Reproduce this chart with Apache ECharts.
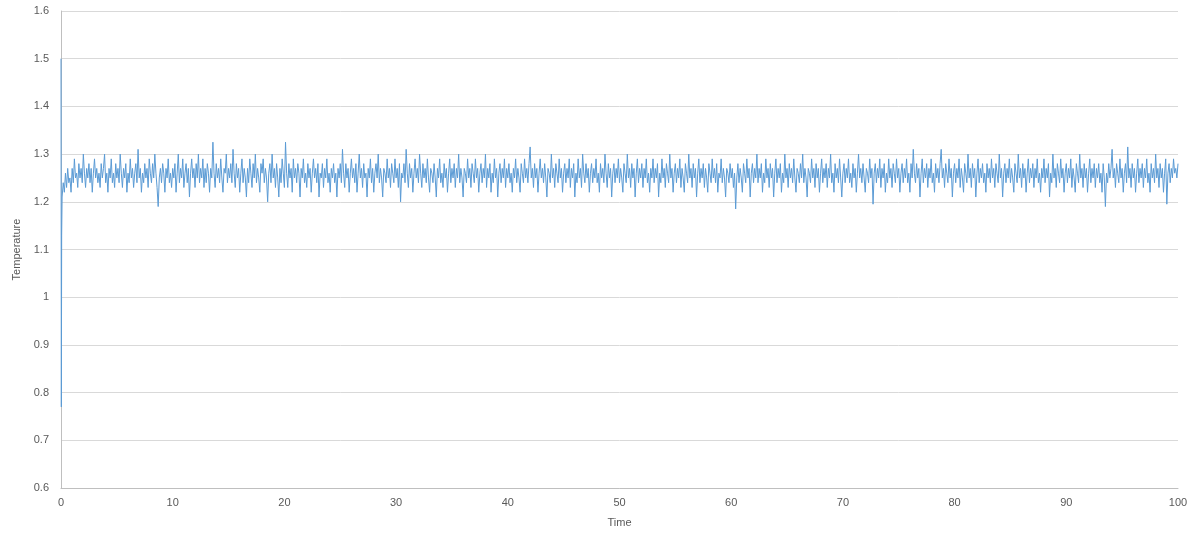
<!DOCTYPE html>
<html>
<head>
<meta charset="utf-8">
<script src="https://cdn.jsdelivr.net/npm/echarts@6/dist/echarts.min.js"></script>
<style>html,body{margin:0;padding:0;background:#fff}#c{width:1199px;height:541px}</style>
</head>
<body>
<div id="c"></div>
<script>
// Start-up transient (time, temperature)
const startTimes = [0, 0.03, 0.06];
const startTemps = [1.50, 0.77, 1.13];
// Sampling step of the remaining record (time units), first sample time
const sampleStep = 0.1;
const sampleStart = 0.1;
// Temperature readings, t = 0.1 ... 100 (25 per row = 2.5 time units)
const temps = [
1.21,1.24,1.22,1.26,1.23,1.27,1.24,1.25,1.22,1.27,1.24,1.29,1.25,1.26,1.23,1.28,1.25,1.27,1.24,1.30,1.26,1.23,1.27,1.25,1.28,
1.24,1.27,1.22,1.26,1.29,1.25,1.27,1.24,1.26,1.23,1.28,1.25,1.27,1.30,1.24,1.26,1.22,1.27,1.25,1.29,1.24,1.26,1.23,1.28,1.25,
1.27,1.24,1.30,1.26,1.23,1.27,1.25,1.28,1.22,1.26,1.24,1.29,1.25,1.27,1.23,1.26,1.28,1.24,1.31,1.25,1.27,1.22,1.26,1.24,1.28,
1.25,1.27,1.23,1.29,1.26,1.24,1.28,1.25,1.30,1.26,1.23,1.19,1.25,1.27,1.24,1.28,1.26,1.22,1.27,1.25,1.29,1.24,1.26,1.23,1.27,
1.25,1.28,1.22,1.26,1.30,1.24,1.27,1.25,1.29,1.23,1.26,1.28,1.24,1.27,1.21,1.26,1.29,1.25,1.27,1.23,1.28,1.25,1.30,1.24,1.27,
1.25,1.29,1.23,1.27,1.24,1.28,1.26,1.22,1.27,1.25,1.325,1.26,1.23,1.28,1.25,1.27,1.24,1.29,1.25,1.22,1.27,1.26,1.30,1.24,1.27,
1.25,1.28,1.24,1.31,1.26,1.23,1.28,1.25,1.27,1.22,1.26,1.29,1.24,1.27,1.25,1.21,1.27,1.24,1.29,1.26,1.23,1.28,1.25,1.30,1.24,
1.27,1.25,1.22,1.28,1.26,1.29,1.24,1.27,1.25,1.20,1.26,1.28,1.24,1.30,1.25,1.27,1.23,1.28,1.25,1.21,1.27,1.24,1.29,1.26,1.23,
1.325,1.26,1.23,1.28,1.25,1.27,1.22,1.29,1.25,1.27,1.24,1.28,1.26,1.21,1.27,1.25,1.29,1.24,1.26,1.23,1.28,1.25,1.27,1.22,1.26,
1.29,1.25,1.27,1.24,1.28,1.21,1.26,1.25,1.28,1.23,1.27,1.25,1.29,1.24,1.26,1.22,1.27,1.25,1.28,1.24,1.26,1.21,1.27,1.25,1.28,
1.24,1.31,1.26,1.23,1.28,1.25,1.27,1.22,1.26,1.29,1.25,1.27,1.24,1.28,1.22,1.26,1.30,1.25,1.27,1.23,1.28,1.25,1.26,1.21,1.27,
1.25,1.29,1.24,1.27,1.22,1.26,1.28,1.25,1.30,1.24,1.27,1.25,1.21,1.27,1.26,1.24,1.29,1.25,1.27,1.23,1.28,1.26,1.24,1.29,1.25,
1.27,1.23,1.28,1.20,1.26,1.25,1.28,1.24,1.31,1.26,1.23,1.28,1.25,1.27,1.22,1.26,1.29,1.25,1.27,1.24,1.30,1.26,1.23,1.28,1.25,
1.27,1.24,1.29,1.25,1.22,1.27,1.26,1.24,1.28,1.25,1.21,1.27,1.25,1.29,1.24,1.26,1.23,1.28,1.25,1.27,1.22,1.26,1.29,1.24,1.27,
1.25,1.28,1.23,1.27,1.25,1.30,1.24,1.27,1.25,1.21,1.27,1.26,1.24,1.29,1.25,1.27,1.23,1.28,1.26,1.24,1.29,1.25,1.27,1.22,1.26,
1.28,1.24,1.27,1.25,1.30,1.23,1.27,1.25,1.28,1.22,1.26,1.24,1.29,1.25,1.27,1.21,1.26,1.28,1.24,1.27,1.25,1.29,1.23,1.27,1.25,
1.28,1.24,1.26,1.22,1.27,1.25,1.29,1.24,1.27,1.25,1.22,1.28,1.26,1.24,1.29,1.25,1.27,1.24,1.28,1.315,1.25,1.27,1.23,1.28,1.25,
1.27,1.22,1.26,1.29,1.25,1.27,1.24,1.28,1.25,1.21,1.27,1.26,1.24,1.30,1.25,1.27,1.23,1.28,1.26,1.24,1.29,1.25,1.27,1.22,1.26,
1.28,1.24,1.27,1.25,1.29,1.23,1.27,1.25,1.28,1.21,1.26,1.24,1.29,1.25,1.27,1.23,1.30,1.26,1.24,1.28,1.25,1.27,1.22,1.26,1.28,
1.24,1.27,1.25,1.29,1.24,1.26,1.22,1.28,1.25,1.27,1.24,1.30,1.26,1.23,1.28,1.25,1.27,1.21,1.26,1.28,1.24,1.27,1.25,1.29,1.24,
1.27,1.25,1.22,1.28,1.26,1.24,1.30,1.25,1.27,1.23,1.28,1.25,1.27,1.21,1.26,1.29,1.24,1.27,1.25,1.28,1.23,1.27,1.25,1.29,1.24,
1.26,1.22,1.27,1.25,1.29,1.24,1.27,1.25,1.28,1.21,1.26,1.24,1.29,1.25,1.27,1.23,1.28,1.26,1.24,1.30,1.25,1.27,1.22,1.26,1.28,
1.24,1.27,1.25,1.29,1.23,1.27,1.25,1.22,1.28,1.26,1.24,1.30,1.25,1.27,1.23,1.28,1.25,1.27,1.21,1.26,1.29,1.24,1.27,1.25,1.28,
1.23,1.27,1.25,1.22,1.28,1.26,1.24,1.29,1.25,1.27,1.24,1.28,1.22,1.26,1.25,1.29,1.24,1.27,1.25,1.21,1.27,1.26,1.24,1.28,1.25,
1.27,1.23,1.26,1.185,1.25,1.28,1.24,1.27,1.25,1.22,1.28,1.26,1.24,1.29,1.25,1.27,1.21,1.26,1.28,1.24,1.27,1.25,1.30,1.24,1.27,
1.25,1.28,1.22,1.26,1.24,1.29,1.25,1.27,1.23,1.28,1.25,1.27,1.21,1.26,1.29,1.24,1.27,1.25,1.28,1.22,1.26,1.24,1.30,1.25,1.27,
1.23,1.28,1.25,1.27,1.24,1.29,1.25,1.22,1.27,1.26,1.24,1.28,1.25,1.30,1.24,1.27,1.25,1.21,1.27,1.26,1.24,1.29,1.25,1.27,1.23,
1.28,1.25,1.27,1.22,1.26,1.29,1.24,1.27,1.25,1.28,1.23,1.27,1.25,1.30,1.24,1.26,1.22,1.28,1.25,1.27,1.24,1.29,1.25,1.21,1.26,
1.28,1.24,1.27,1.25,1.29,1.24,1.26,1.23,1.28,1.25,1.27,1.22,1.26,1.30,1.25,1.27,1.24,1.28,1.25,1.22,1.27,1.26,1.24,1.29,1.25,
1.27,1.195,1.26,1.28,1.24,1.27,1.25,1.29,1.23,1.27,1.25,1.28,1.22,1.26,1.24,1.29,1.25,1.27,1.23,1.28,1.26,1.24,1.29,1.25,1.27,
1.22,1.26,1.28,1.24,1.27,1.25,1.29,1.24,1.26,1.22,1.28,1.25,1.31,1.26,1.24,1.28,1.25,1.27,1.21,1.26,1.29,1.24,1.27,1.25,1.28,
1.23,1.27,1.25,1.29,1.24,1.26,1.22,1.28,1.25,1.27,1.24,1.28,1.31,1.25,1.27,1.23,1.28,1.26,1.24,1.29,1.25,1.27,1.21,1.26,1.28,
1.24,1.27,1.25,1.29,1.23,1.27,1.25,1.22,1.28,1.26,1.24,1.30,1.25,1.27,1.23,1.28,1.25,1.27,1.21,1.26,1.29,1.24,1.27,1.25,1.28,
1.24,1.26,1.22,1.28,1.25,1.27,1.24,1.29,1.25,1.27,1.23,1.28,1.26,1.24,1.30,1.25,1.27,1.21,1.26,1.28,1.24,1.27,1.25,1.29,1.24,
1.27,1.25,1.22,1.28,1.26,1.24,1.30,1.25,1.27,1.23,1.28,1.25,1.27,1.22,1.26,1.29,1.24,1.27,1.25,1.28,1.23,1.27,1.25,1.29,1.24,
1.26,1.22,1.27,1.25,1.29,1.24,1.27,1.25,1.28,1.21,1.26,1.24,1.30,1.25,1.27,1.23,1.28,1.26,1.24,1.29,1.25,1.27,1.22,1.26,1.28,
1.24,1.27,1.25,1.29,1.23,1.27,1.25,1.22,1.28,1.26,1.24,1.30,1.25,1.27,1.23,1.28,1.25,1.27,1.22,1.26,1.29,1.24,1.27,1.25,1.28,
1.23,1.27,1.25,1.28,1.24,1.26,1.22,1.28,1.25,1.19,1.26,1.24,1.28,1.25,1.27,1.31,1.25,1.27,1.23,1.28,1.26,1.24,1.29,1.25,1.27,
1.22,1.26,1.28,1.24,1.315,1.25,1.27,1.23,1.28,1.25,1.27,1.22,1.26,1.29,1.24,1.27,1.25,1.28,1.23,1.27,1.25,1.29,1.24,1.26,1.22,
1.28,1.25,1.27,1.24,1.30,1.25,1.27,1.23,1.28,1.25,1.27,1.22,1.26,1.29,1.195,1.26,1.28,1.24,1.27,1.25,1.29,1.26,1.27,1.25,1.28
];
const xTitle = 'Time';
const yTitle = 'Temperature';

const data = [];
for (let i = 0; i < startTimes.length; i++) data.push([startTimes[i], startTemps[i]]);
for (let i = 0; i < temps.length; i++) data.push([+(sampleStart + i * sampleStep).toFixed(2), temps[i]]);

const font = 'Liberation Sans';
const chart = echarts.init(document.getElementById('c'), null, {renderer: 'canvas'});
chart.setOption({
  animation: false,
  backgroundColor: '#ffffff',
  grid: {left: 61, right: 21, top: 11, bottom: 53, containLabel: false},
  xAxis: {
    type: 'value', min: 0, max: 100, interval: 10,
    name: xTitle, nameLocation: 'middle', nameGap: 29,
    nameTextStyle: {color: '#595959', fontFamily: font, fontSize: 11},
    axisLine: {show: true, lineStyle: {color: '#bfbfbf', width: 1}},
    axisTick: {show: false},
    axisLabel: {color: '#595959', fontFamily: font, fontSize: 11, margin: 9},
    splitLine: {show: false}
  },
  yAxis: {
    type: 'value', min: 0.6, max: 1.6, interval: 0.1,
    name: yTitle, nameLocation: 'middle', nameGap: 34, nameRotate: 90,
    nameTextStyle: {color: '#595959', fontFamily: font, fontSize: 11},
    axisLine: {show: true, lineStyle: {color: '#bfbfbf', width: 1}},
    axisTick: {show: false},
    axisLabel: {color: '#595959', fontFamily: font, fontSize: 11, margin: 12,
      formatter: v => String(+v.toFixed(1))},
    splitLine: {show: true, lineStyle: {color: '#d9d9d9', width: 1}}
  },
  series: [{
    type: 'line', data: data, showSymbol: false, symbol: 'none', sampling: null,
    lineStyle: {color: '#5b9bd5', width: 1},
    itemStyle: {color: '#5b9bd5'}
  }]
});
</script>
</body>
</html>
